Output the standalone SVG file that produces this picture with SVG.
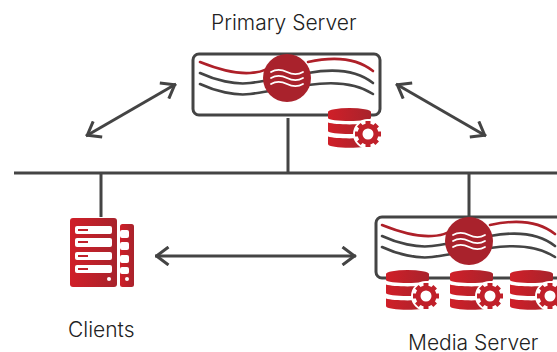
<svg xmlns="http://www.w3.org/2000/svg" width="557" height="352" viewBox="0 0 557 352">
<style>
.ln{fill:none;stroke:#444;stroke-width:3}
.box{fill:#fff;stroke:#444;stroke-width:3}
.wg{fill:none;stroke:#444;stroke-width:2.600;stroke-linecap:round}
.wr{fill:none;stroke:#ae2029;stroke-width:2.600;stroke-linecap:round}
.ww{fill:none;stroke:#fff;stroke-width:1.800;stroke-linecap:round}
.lb{font-family:Inter,"Liberation Sans",sans-serif;font-weight:300;font-size:21px;fill:#222}
</style>
<defs>
<linearGradient id="g" x1="0" x2="1" y1="0" y2="0"><stop offset="0" stop-color="#d01f28"/><stop offset="1" stop-color="#a8232c"/></linearGradient>
<marker id="a" viewBox="-14 -10 16 20" refX="1.500" refY="0" markerWidth="16" markerHeight="20" markerUnits="userSpaceOnUse" orient="auto-start-reverse"><path d="M-12-9L0 0L-12 9" fill="none" stroke="#444" stroke-width="3"/></marker>
<g id="wave">
<path class="wr" d="M0 8C15 14 35 20 50 19S62 16 70 14"/>
<path class="wg" d="M0 19C15 26 35 31 50 29S62 27 70 26"/>
<path class="wg" d="M0 30C15 37 35 42 50 40S62 38 70 37"/>
<path class="wr" d="M108 8C135 2 158 5 173 17"/>
<path class="wg" d="M108 19C135 14 158 17 173 29"/>
<path class="wg" d="M108 31C135 27 158 30 173 40"/>
<circle cx="87" cy="24" r="24" fill="#a9222c"/>
<path class="ww" d="M71 18c5-3 10-3 16 0s11 3 16 0M71 24c5-3 10-3 16 0s11 3 16 0M71 30c5-3 10-3 16 0s11 3 16 0"/>
</g>
<g id="db">
<path d="M0 4A21.500 4 0 0 1 43 4V10C43 14 0 14 0 10Z" fill="url(#g)"/>
<path d="M0 14.500C8 17 35 17 43 14.500V23C43 27 0 27 0 23Z" fill="url(#g)"/>
<path d="M0 28.500C8 31 35 31 43 28.500V36C43 41 0 41 0 36Z" fill="url(#g)"/>
<circle cx="40" cy="26" r="15" fill="#fff"/>
<circle cx="40" cy="26" r="8" fill="none" stroke="#c0202a" stroke-width="5"/>
<path d="M40 26m-2.500-13h5v4h-5zM40 26m-2.500 9h5v4h-5zM40 26m-13-2.500h4v5h-4zM40 26m9-2.500h4v5h-4z" fill="#c0202a"/>
<path d="M40 26m-2.500-13h5v4h-5zM40 26m-2.500 9h5v4h-5zM40 26m-13-2.500h4v5h-4zM40 26m9-2.500h4v5h-4z" fill="#c0202a" transform="rotate(45 40 26)"/>
</g>
</defs>
<g id="connectors">
<path class="ln" d="M14 173H557M288 118V173M101 173V217M469 173V217"/>
<path class="ln" d="M86 136L176 84" marker-start="url(#a)" marker-end="url(#a)"/>
<path class="ln" d="M396 84L486 136" marker-start="url(#a)" marker-end="url(#a)"/>
<path class="ln" d="M155 256H356" marker-start="url(#a)" marker-end="url(#a)"/>
</g>
<g id="primary-server">
<rect class="box" x="193" y="54" width="187" height="61" rx="6"/>
<use href="#wave" x="200" y="54"/>
<use href="#db" x="328" y="108"/>
<text class="lb" x="211" y="30">Primary Server</text>
</g>
<g id="media-server">
<rect class="box" x="376" y="217" width="187" height="61" rx="6"/>
<use href="#wave" x="382" y="217"/>
<use href="#db" x="386" y="270"/>
<use href="#db" x="450" y="270"/>
<use href="#db" x="510" y="270"/>
<text class="lb" x="408" y="350">Media Server</text>
</g>
<g id="clients">
<rect x="70" y="218" width="47" height="69" rx="3" fill="url(#g)"/>
<rect x="120" y="224" width="14" height="63" rx="2.500" fill="url(#g)"/>
<g fill="#fff">
<rect x="75" y="226" width="37" height="8" rx="2"/><rect x="75" y="238" width="37" height="9" rx="2"/><rect x="75" y="252" width="37" height="8" rx="2"/><rect x="75" y="265" width="37" height="8" rx="2"/>
<rect x="120" y="230" width="9" height="8" rx="2"/><rect x="120" y="242" width="9" height="8" rx="2"/><rect x="120" y="255" width="9" height="8" rx="2"/><rect x="120" y="267" width="9" height="7" rx="2"/>
<circle cx="109" cy="279" r="2"/><circle cx="127" cy="279" r="2"/>
</g>
<g fill="#c0202a"><rect x="78" y="229" width="10" height="2"/><rect x="78" y="241" width="10" height="2"/><rect x="78" y="255" width="10" height="2"/><rect x="78" y="268" width="10" height="2"/></g>
<text class="lb" x="68" y="337">Clients</text>
</g>
</svg>
